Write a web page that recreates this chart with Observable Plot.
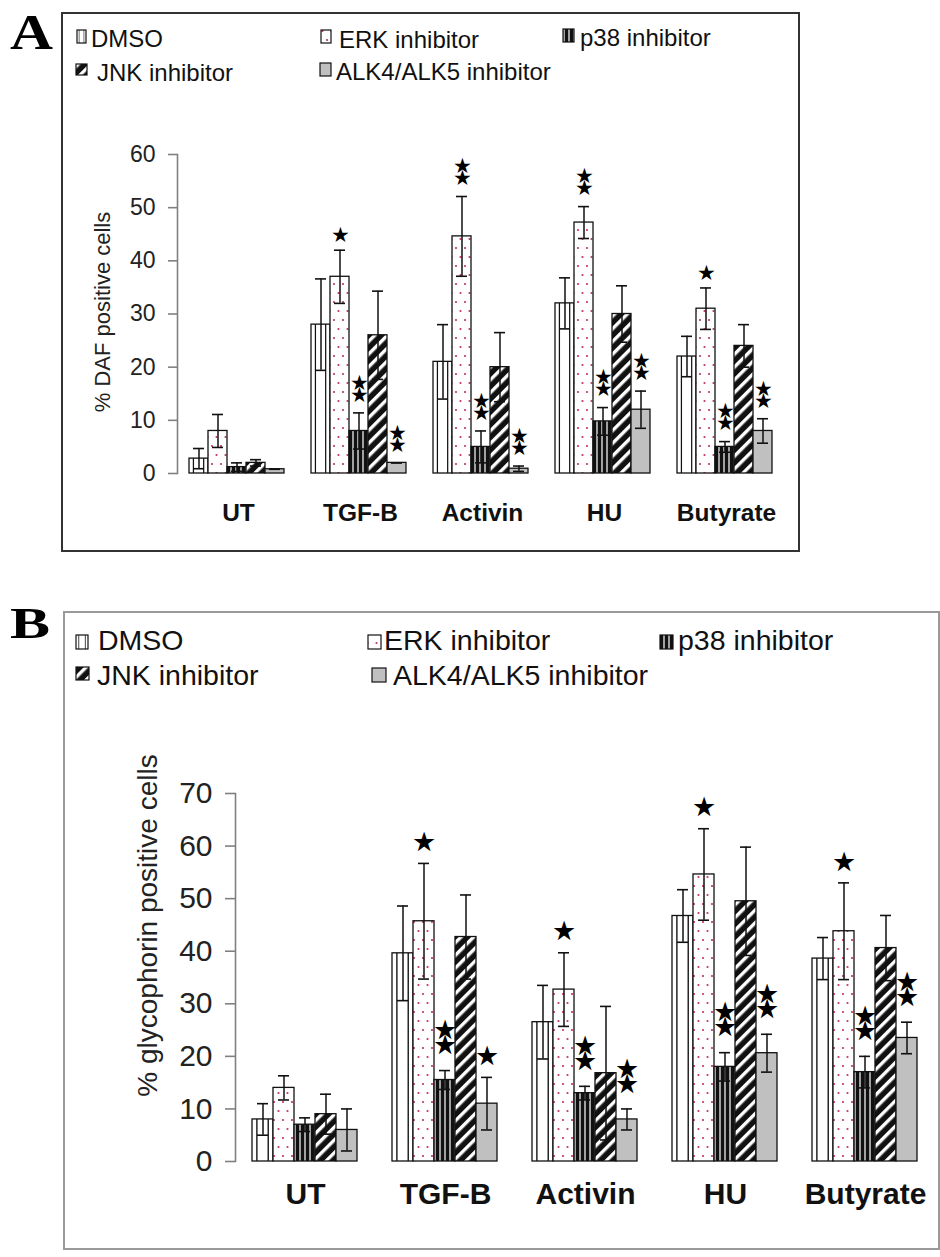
<!DOCTYPE html>
<html><head><meta charset="utf-8">
<script src="https://cdn.jsdelivr.net/npm/d3@7"></script>
<script src="https://cdn.jsdelivr.net/npm/@observablehq/plot@0.6"></script>
<style>
body{margin:0;background:#fff;}
#page{position:relative;width:940px;height:1257px;overflow:hidden;font-family:"Liberation Sans",Arial,sans-serif;background:#fff;}
#page svg{position:absolute;left:0;}
</style></head><body><div id="page"></div>
<script>
// ---------- data ----------
const categories = ["UT", "TGF-B", "Activin", "HU", "Butyrate"];
const series = ["DMSO", "ERK inhibitor", "p38 inhibitor", "JNK inhibitor", "ALK4/ALK5 inhibitor"];
const ticksA = [0, 10, 20, 30, 40, 50, 60];
const ticksB = [0, 10, 20, 30, 40, 50, 60, 70];

// Panel A: % DAF positive cells (mean, error)
const dafDMSO = [2.8, 28, 21, 32, 22];
const dafERK  = [8, 37, 44.6, 47.2, 31];
const dafP38  = [1.2, 8, 5, 9.8, 5];
const dafJNK  = [2, 26, 20, 30, 24];
const dafALK  = [0.8, 2, 0.9, 12, 8];
const dafErrDMSO = [1.9, 8.6, 7, 4.8, 3.8];
const dafErrERK  = [3.1, 5, 7.5, 3, 3.9];
const dafErrP38  = [0.8, 3.4, 3, 2.6, 1];
const dafErrJNK  = [0.6, 8.3, 6.5, 5.3, 4];
const dafErrALK  = [0, 0, 0.5, 3.5, 2.3];
const dafStarsERK = [0, 1, 2, 2, 1];
const dafStarsP38 = [0, 2, 2, 2, 2];
const dafStarsALK = [0, 2, 2, 2, 2];

// Panel B: % glycophorin positive cells (mean, error)
const gpaDMSO = [8, 39.6, 26.5, 46.7, 38.6];
const gpaERK  = [14, 45.7, 32.7, 54.6, 43.8];
const gpaP38  = [7, 15.5, 13, 18, 17];
const gpaJNK  = [9, 42.7, 16.8, 49.5, 40.6];
const gpaALK  = [6, 11, 8, 20.6, 23.5];
const gpaErrDMSO = [3, 9, 7, 5, 4];
const gpaErrERK  = [2.3, 11, 7, 8.7, 9.2];
const gpaErrP38  = [1.3, 1.8, 1.3, 2.7, 3];
const gpaErrJNK  = [3.8, 8, 12.7, 10.3, 6.2];
const gpaErrALK  = [4, 5, 2, 3.6, 3];
const gpaStarsERK = [0, 1, 1, 1, 1];
const gpaStarsP38 = [0, 2, 2, 2, 2];
const gpaStarsALK = [0, 1, 2, 2, 2];

const fills = {
  "DMSO": "url(#p-dmso)",
  "ERK inhibitor": "url(#p-erk)",
  "p38 inhibitor": "url(#p-p38)",
  "JNK inhibitor": "url(#p-jnk)",
  "ALK4/ALK5 inhibitor": "#c0c0c0"
};

function rowsFrom(means, errs, stars) {
  const out = [];
  series.forEach((s, i) => categories.forEach((c, j) => {
    out.push({cat: c, ser: s, v: means[i][j], e: errs[i][j], stars: stars[i] ? stars[i][j] : 0});
  }));
  return out;
}
const rowsA = rowsFrom([dafDMSO, dafERK, dafP38, dafJNK, dafALK],
  [dafErrDMSO, dafErrERK, dafErrP38, dafErrJNK, dafErrALK],
  [null, dafStarsERK, dafStarsP38, null, dafStarsALK]);
const rowsB = rowsFrom([gpaDMSO, gpaERK, gpaP38, gpaJNK, gpaALK],
  [gpaErrDMSO, gpaErrERK, gpaErrP38, gpaErrJNK, gpaErrALK],
  [null, gpaStarsERK, gpaStarsP38, null, gpaStarsALK]);

// ---------- overlay: boxes, panel letters, legends, patterns ----------
const page = d3.select("#page");
const over = page.append("svg").attr("width", 940).attr("height", 1257).style("top", "0px");
const defs = over.append("defs");
{
  const p = defs.append("pattern").attr("id", "p-dmso").attr("patternUnits", "objectBoundingBox")
    .attr("patternContentUnits", "objectBoundingBox").attr("width", 1).attr("height", 1);
  p.append("rect").attr("width", 1).attr("height", 1).attr("fill", "#fff");
  p.append("rect").attr("x", 0.2).attr("width", 0.065).attr("height", 1).attr("fill", "#111");
  p.append("rect").attr("x", 0.74).attr("width", 0.065).attr("height", 1).attr("fill", "#111");
}
{
  const p = defs.append("pattern").attr("id", "p-erk").attr("patternUnits", "userSpaceOnUse")
    .attr("width", 9).attr("height", 18);
  p.append("rect").attr("width", 9).attr("height", 18).attr("fill", "#fff");
  p.append("circle").attr("cx", 3).attr("cy", 4).attr("r", 1.1).attr("fill", "#c2306e");
  p.append("circle").attr("cx", 7.5).attr("cy", 13).attr("r", 1.1).attr("fill", "#c2306e");
}
{
  const p = defs.append("pattern").attr("id", "p-p38").attr("patternUnits", "userSpaceOnUse")
    .attr("width", 5).attr("height", 5);
  p.append("rect").attr("width", 5).attr("height", 5).attr("fill", "#111");
  p.append("rect").attr("x", 3.4).attr("width", 1.2).attr("height", 5).attr("fill", "#fff");
}
{
  const p = defs.append("pattern").attr("id", "p-jnk").attr("patternUnits", "userSpaceOnUse")
    .attr("width", 9).attr("height", 9).attr("patternTransform", "rotate(45)");
  p.append("rect").attr("width", 9).attr("height", 9).attr("fill", "#111");
  p.append("rect").attr("width", 3.4).attr("height", 9).attr("fill", "#fff");
}

// boxes
over.append("rect").attr("x", 62).attr("y", 13).attr("width", 737).attr("height", 538)
  .attr("fill", "none").attr("stroke", "#333").attr("stroke-width", 2);
over.append("rect").attr("x", 64).attr("y", 612).attr("width", 875).attr("height", 637)
  .attr("fill", "none").attr("stroke", "#999").attr("stroke-width", 2);

// panel letters
over.append("text").text("A").attr("x", 10).attr("y", 49)
  .attr("font-family", "Liberation Serif, Times New Roman, serif").attr("font-weight", "bold")
  .attr("font-size", 51).attr("textLength", 43).attr("lengthAdjust", "spacingAndGlyphs");
over.append("text").text("B").attr("x", 10).attr("y", 638)
  .attr("font-family", "Liberation Serif, Times New Roman, serif").attr("font-weight", "bold")
  .attr("font-size", 45).attr("textLength", 40).attr("lengthAdjust", "spacingAndGlyphs");

// legends
const legendA = [
  {s: "DMSO", sx: 77, sy: 30, sw: 9, sh: 13, tx: 91, ty: 47},
  {s: "ERK inhibitor", sx: 321, sy: 30, sw: 10, sh: 13, tx: 339, ty: 48},
  {s: "p38 inhibitor", sx: 563, sy: 29, sw: 11, sh: 13, tx: 580, ty: 46},
  {s: "JNK inhibitor", sx: 76, sy: 64, sw: 11, sh: 11, tx: 97, ty: 81},
  {s: "ALK4/ALK5 inhibitor", sx: 320, sy: 63, sw: 11, sh: 13, tx: 336, ty: 80}
];
const legendB = [
  {s: "DMSO", sx: 76, sy: 635, sw: 12, sh: 14, tx: 98, ty: 650},
  {s: "ERK inhibitor", sx: 368, sy: 635, sw: 13, sh: 14, tx: 384, ty: 650},
  {s: "p38 inhibitor", sx: 660, sy: 635, sw: 13, sh: 14, tx: 678, ty: 650},
  {s: "JNK inhibitor", sx: 76, sy: 667, sw: 13, sh: 13, tx: 97, ty: 685},
  {s: "ALK4/ALK5 inhibitor", sx: 372, sy: 668, sw: 14, sh: 14, tx: 393, ty: 685}
];
function drawLegend(items, fontSize) {
  for (const it of items) {
    over.append("rect").attr("x", it.sx).attr("y", it.sy).attr("width", it.sw).attr("height", it.sh)
      .attr("fill", fills[it.s]).attr("stroke", "#111").attr("stroke-width", 1.2);
    over.append("text").text(it.s).attr("x", it.tx).attr("y", it.ty)
      .attr("font-family", "Liberation Sans, Arial, sans-serif").attr("font-size", fontSize).attr("fill", "#111");
  }
}
drawLegend(legendA, 24);
drawLegend(legendB, 28.5);

// ---------- charts ----------
function panel(rows, o) {
  const errTop = d => d.v + d.e, errBot = d => d.v - d.e;
  return Plot.plot({
    width: 940, height: o.height,
    marginLeft: o.ml, marginRight: o.mr, marginTop: o.mt, marginBottom: o.mb,
    style: {background: "transparent", overflow: "visible", fontFamily: "Liberation Sans, Arial, sans-serif", color: "#111"},
    fx: {domain: categories, padding: 0},
    x: {domain: series, paddingInner: 0, paddingOuter: o.po, align: o.align, axis: null},
    y: {domain: [0, o.ymax]},
    color: {type: "identity"},
    marks: [
      Plot.frame({anchor: "left", facetAnchor: "left", stroke: "#808080", strokeWidth: 1.6}),
      Plot.axisY({ticks: o.ticks, tickSize: o.tickSize, tickPadding: 13, fontSize: o.tickFont,
        stroke: "#808080", strokeWidth: 1.6, fill: "#222", label: null}),
      Plot.axisFx({anchor: "bottom", tickSize: 0, tickPadding: o.catPad, fontSize: o.catFont,
        fontWeight: "bold", fill: "#111", label: null}),
      Plot.barY(rows, {fx: "cat", x: "ser", y: "v", fill: d => fills[d.ser], stroke: "#111", strokeWidth: 1.3}),
      Plot.ruleX(rows, {fx: "cat", x: "ser", y1: errBot, y2: errTop, stroke: "#111", strokeWidth: 1.5}),
      Plot.tickY(rows, {fx: "cat", x: "ser", y: errTop, insetLeft: o.capInset, insetRight: o.capInset, stroke: "#111", strokeWidth: 1.6}),
      Plot.tickY(rows, {fx: "cat", x: "ser", y: errBot, insetLeft: o.capInset, insetRight: o.capInset, stroke: "#111", strokeWidth: 1.6}),
      // single significance star
      Plot.text(rows.filter(d => d.stars === 1), {fx: "cat", x: "ser", y: errTop, text: () => "★",
        dy: o.star1, fontSize: o.starFont, fill: "#000", lineAnchor: "middle"}),
      // two stacked stars, drawn as one two-line text
      Plot.text(rows.filter(d => d.stars === 2), {fx: "cat", x: "ser", y: errTop, text: () => "★\n★",
        dy: o.star1 - o.starGap / 2, lineHeight: o.starGap / o.starFont, fontSize: o.starFont,
        fill: "#000", lineAnchor: "middle"}),
      Plot.text([o.ylabel], {text: d => d, frameAnchor: "left", textAnchor: "middle", rotate: -90,
        dx: o.ldx, dy: o.ldy, fontSize: o.labelFont, fill: "#222", facetAnchor: "left"})
    ]
  });
}

const svgA = panel(rowsA, {
  height: 440, ml: 175, mr: 151.25, mt: 54, mb: 67, po: 0.663, align: 0.427,
  ymax: 60, ticks: ticksA, tickSize: 9, tickFont: 23, catFont: 24.5, catPad: 30,
  capInset: 4, starFont: 21, star1: -15, starGap: 12,
  ylabel: "% DAF positive cells", ldx: -75, ldy: -2, labelFont: 22
});
svgA.style.top = "100px";
page.node().appendChild(svgA);

const svgB = panel(rowsB, {
  height: 510, ml: 234, mr: 4.25, mt: 73, mb: 69, po: 0.69, align: 0.48,
  ymax: 70, ticks: ticksB, tickSize: 10, tickFont: 30, catFont: 30, catPad: 21,
  capInset: 5, starFont: 27, star1: -21, starGap: 15,
  ylabel: "% glycophorin positive cells", ldx: -87, ldy: -52, labelFont: 28
});
svgB.style.top = "720px";
page.node().appendChild(svgB);
</script>
</body></html>
